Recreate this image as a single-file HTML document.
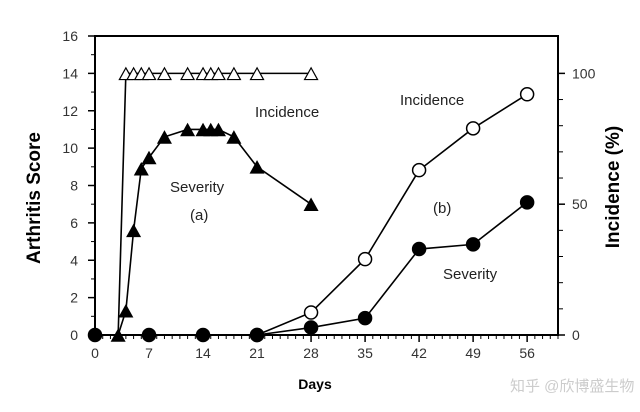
<!DOCTYPE html>
<html><head><meta charset="utf-8"><style>
body{margin:0;background:#fff;}
svg{display:block;font-family:"Liberation Sans","Noto Sans CJK SC",sans-serif;}
</style></head><body>
<svg id="c" width="640" height="412" viewBox="0 0 640 412"></svg>
<script>
const daysA=[3,4,5,6,7,9,12,14,15,16,18,21,28];
const sevA=[0,1.3,5.6,8.9,9.5,10.6,11,11,11,11,10.6,9,7];
const incDaysA=[3,4,5,6,7,9,12,14,15,16,18,21,28];
const incA=[0,100,100,100,100,100,100,100,100,100,100,100,100];
const daysB=[0,7,14,21,28,35,42,49,56];
const sevB=[0,0,0,0,0.4,0.9,4.6,4.85,7.1];
const incDaysB=[21,28,35,42,49,56];
const incB=[0,8.6,29,63,79,92];
const xTicks=[0,7,14,21,28,35,42,49,56];
const yTicks=[0,2,4,6,8,10,12,14,16];
const y2Ticks=[0,50,100];
const NS="http://www.w3.org/2000/svg";
const svg=document.getElementById('c');
const X0=95,X1=558,Y0=335,Y1=36;
const x=d=>X0+d*(X1-X0)/60;
const y=v=>Y0-v*(Y0-Y1)/16;
const y2=p=>y(p*14/100);
function mk(t,a,p){const e=document.createElementNS(NS,t);for(const k in a)e.setAttribute(k,a[k]);(p||svg).appendChild(e);return e;}
function txt(s,xx,yy,o){const e=mk('text',Object.assign({x:xx,y:yy,'font-size':14,fill:'#333'},o||{}));e.textContent=s;return e;}
const ax=mk('path',{d:`M${X0},${Y1}H${X1}V${Y0}H${X0}Z`,fill:'none',stroke:'#000','stroke-width':2});

for(let d=0;d<=60;d++){const maj=d%7===0&&d<=56;mk('line',{x1:x(d),x2:x(d),y1:Y0,y2:Y0+(maj?7:4),stroke:'#000','stroke-width':maj?1.5:1});}
xTicks.forEach(d=>{const t=txt(d,x(d),358,{'text-anchor':'middle'});});
for(let v=0;v<=16;v++){const maj=v%2===0;mk('line',{x1:X0,x2:X0-(maj?7:4),y1:y(v),y2:y(v),stroke:'#000','stroke-width':maj?1.5:1});}
yTicks.forEach(v=>{const t=txt(v,78,y(v)+5,{'text-anchor':'end'});});
for(let p=0;p<=100;p+=10){const maj=p%50===0;mk('line',{x1:X1,x2:X1+(maj?7:5),y1:y2(p),y2:y2(p),stroke:'#000','stroke-width':maj?1.5:1});}
y2Ticks.forEach(p=>{const t=txt(p,572,y2(p)+5,{});});
let t=txt('Days',315,389,{'text-anchor':'middle','font-weight':'bold',fill:'#000'});
t=txt('Arthritis Score',0,0,{'text-anchor':'middle','font-weight':'bold','font-size':19,fill:'#000',transform:'translate(40,198) rotate(-90)'});
t=txt('Incidence (%)',0,0,{'text-anchor':'middle','font-weight':'bold','font-size':19,fill:'#000',transform:'translate(619,187) rotate(-90)'});
function line(xs,ys,fy,name){const p=mk('polyline',{points:xs.map((d,i)=>x(d)+','+fy(ys[i])).join(' '),fill:'none',stroke:'#000','stroke-width':1.6});}
function tri(cx,cy,fill,name){const s=6.5;const e=mk('polygon',{points:`${cx},${cy-s} ${cx-s},${cy+s*0.8} ${cx+s},${cy+s*0.8}`,fill:fill,stroke:'#000','stroke-width':1.2});}
function circ(cx,cy,fill,name){const e=mk('circle',{cx:cx,cy:cy,r:6.5,fill:fill,stroke:'#000','stroke-width':1.5});}
line(incDaysA,incA,y2,'incidence-a-line');
line(daysA,sevA,y,'severity-a-line');
line(incDaysB,incB,y2,'incidence-b-line');
line(daysB,sevB,y,'severity-b-line');
incDaysA.forEach((d,i)=>{if(i>0)tri(x(d),y2(incA[i])+1,'#fff','incidence-a-point');});
daysA.forEach((d,i)=>tri(x(d),y(sevA[i])+1,'#000','severity-a-point'));
incDaysB.forEach((d,i)=>circ(x(d),y2(incB[i]),'#fff','incidence-b-point'));
daysB.forEach((d,i)=>circ(x(d),y(sevB[i]),'#000','severity-b-point'));
[['Incidence',255,117,'label-incidence-a'],['Severity',170,192,'label-severity-a'],['(a)',190,220,'label-a'],['Incidence',400,105,'label-incidence-b'],['(b)',433,213,'label-b'],['Severity',443,279,'label-severity-b']].forEach(a=>{const e=txt(a[0],a[1],a[2],{'font-size':15,fill:'#222'});});
t=txt('知乎 @欣博盛生物',510,391,{'font-size':15,fill:'#ccc'});
</script>
</body></html>
